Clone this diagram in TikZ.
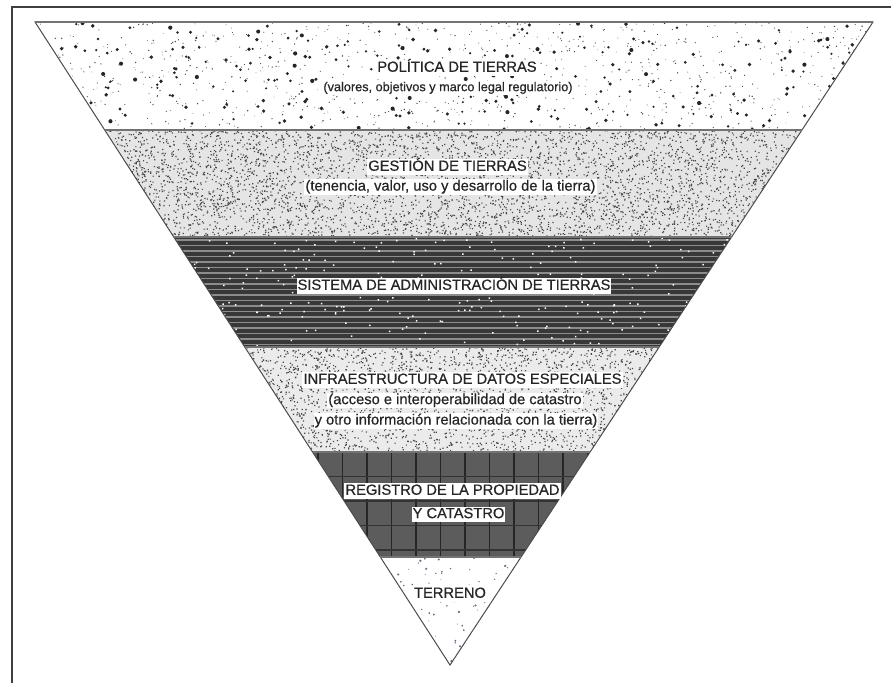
\documentclass[tikz,border=0pt]{standalone}
\usepackage{fontspec}
\setmainfont{Liberation Sans}
\newfontfamily\lblfont{Liberation Sans}[FakeBold=0.6]
\usepackage{tikz}
\usetikzlibrary{calc}
\usetikzlibrary{positioning}
\definecolor{dotblue}{RGB}{105,105,150}

\begin{document}
\begin{tikzpicture}[x=1pt, y=-1pt, node distance=4pt]
  \tikzstyle{band label} = [fill=white, inner sep=1pt, text height=10.5pt, text depth=3pt,
     text=black!85, font=\lblfont\fontsize{14.7}{17}\selectfont]
  \tikzstyle{small label} = [band label, text height=9pt, text depth=2.7pt, font=\lblfont\fontsize{12.7}{15}\selectfont]
  \tikzstyle{edge line} = [draw=black!70, line width=1pt]
  \tikzstyle{split line} = [draw=black!55, line width=1.6pt]
  \useasboundingbox (0,0) rectangle (891,683);
  \pgfmathsetseed{2718}

  %frame
  \draw[black!75, line width=1.6pt] (12,683) -- (12,7) -- (891,7);

  %corners
  \coordinate (tl) at (35,22);
  \coordinate (tr) at (873,22);
  \coordinate (apex) at (450,665);
  \foreach \n/\t in {1/0.168,2/0.3344,3/0.5054,4/0.6687,5/0.832}{
    \coordinate (l\n) at ($(tl)!\t!(apex)$);
    \coordinate (r\n) at ($(tr)!\t!(apex)$);
  }

  %band 1: coarse speckle
  \begin{scope}
    \clip (tl) -- (tr) -- (r1) -- (l1) -- cycle;
    \foreach \k in {1,...,7}{
      \fill[black!70] \foreach \i in {1,...,130}{ (35+838*rnd, 22+108*rnd) circle [radius={(0.4+0.4*rnd)*1pt}] };
    }
    \foreach \k in {1,...,2}{
      \fill[black!85] \foreach \i in {1,...,140}{ (35+838*rnd, 22+108*rnd) circle [radius={(1.1+1*rnd)*1pt}] };
    }
  \end{scope}

  %band 2: fine stipple
  \begin{scope}
    \clip (l1) -- (r1) -- (r2) -- (l2) -- cycle;
    \fill[black!10] (100,130) rectangle (810,237);
    \foreach \k in {1,...,24}{
      \fill[black!72] \foreach \i in {1,...,200}{ (104+699*rnd, 130+107*rnd) rectangle ++(1.2,1.2) };
    }
  \end{scope}

  %band 3: stripes
  \begin{scope}
    \clip (l2) -- (r2) -- (r3) -- (l3) -- cycle;
    \fill[black!78] (170,237) rectangle (740,347);
    \foreach \y in {240,245.5,...,347}{ \draw[black!45, line width=1.3pt] (170,\y) -- (740,\y); }
    \fill[white] \foreach \i in {1,...,260}{ (174+558*rnd, 237+110*rnd) rectangle ++(1.5,1.5) };
  \end{scope}

  %band 4: fine stipple
  \begin{scope}
    \clip (l3) -- (r3) -- (r4) -- (l4) -- cycle;
    \fill[black!8] (240,347) rectangle (665,452);
    \foreach \k in {1,...,13}{
      \fill[black!72] \foreach \i in {1,...,200}{ (245+415*rnd, 347+105*rnd) rectangle ++(1.2,1.2) };
    }
  \end{scope}

  %band 5: tiles
  \begin{scope}
    \clip (l4) -- (r4) -- (r5) -- (l5) -- cycle;
    \fill[black!64] (300,452) rectangle (600,557);
    \foreach \x in {318,342.5,...,600}{ \draw[black!85, line width=1.8pt] (\x,452) -- (\x,557); }
    \foreach \y in {476.5,501,...,557}{ \draw[black!80, line width=1.2pt] (300,\y) -- (600,\y); }
  \end{scope}

  %band 6: ground
  \begin{scope}
    \clip (l5) -- (r5) -- (apex) -- cycle;
    \fill[dotblue] \foreach \i in {1,...,90}{ (380+141*rnd, 557+108*rnd) circle [radius={(0.4+0.9*rnd)*1pt}] };
  \end{scope}

  %lines
  \draw[edge line] (tl) -- (tr) -- (apex) -- cycle;
  \draw[split line] (tl) -- (tr);
  \foreach \n in {1,...,5}{ \draw[split line] (l\n) -- (r\n); }

  %labels
  \node[band label] (politica) at (457,68) {POLÍTICA DE TIERRAS};
  \node[small label, below=5pt of politica, xshift=-9pt] (politicasub) {(valores, objetivos y marco legal regulatorio)};
  \node[band label] (gestion) at (447.5,167) {GESTIÓN DE TIERRAS};
  \node[band label, below=4pt of gestion, xshift=3pt] (gestionsub) {(tenencia, valor, uso y desarrollo de la tierra)};
  \node[band label] (sistema) at (454,286) {SISTEMA DE ADMINISTRACIÓN DE TIERRAS};
  \node[band label] (ide) at (462.5,380) {INFRAESTRUCTURA DE DATOS ESPECIALES};
  \node[band label, below=4.5pt of ide, xshift=-7.5pt] (idesub) {(acceso e interoperabilidad de catastro};
  \node[band label, below=4.5pt of idesub, xshift=1pt] (idesubb) {y otro información relacionada con la tierra)};
  \node[band label] (registro) at (452.5,491) {REGISTRO DE LA PROPIEDAD};
  \node[band label, below=7.5pt of registro, xshift=6pt] (catastro) {Y CATASTRO};
  \node[band label] (terreno) at (450,594) {TERRENO};
\end{tikzpicture}
\end{document}
